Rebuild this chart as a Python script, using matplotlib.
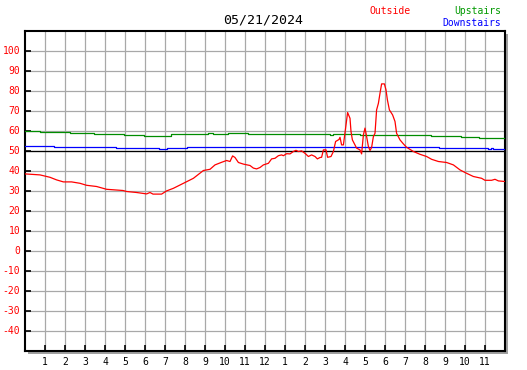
import matplotlib
matplotlib.use('Agg')
import matplotlib.pyplot as plt
from matplotlib.patches import Rectangle

plt.rcParams['font.family'] = ['DejaVu Sans Mono']
plt.rcParams['axes.unicode_minus'] = False

# outside temperature (hour of day, degrees)
outside_hours = [0, 0.75, 1.25, 1.58, 1.92, 2.33, 2.75, 3.08, 3.58, 4.08, 4.9, 5.08,
                 5.58, 6.08, 6.25, 6.4, 6.83, 7.08, 7.42, 7.92, 8.42, 8.92, 9.25, 9.5,
                 9.83, 10.08, 10.25, 10.38, 10.5, 10.67, 10.92, 11.25, 11.42, 11.58,
                 11.75, 11.92, 12.17, 12.33, 12.5, 12.67, 12.83, 12.92, 13.08, 13.25,
                 13.42, 13.55, 13.67, 13.83, 14.0, 14.17, 14.33, 14.5, 14.62, 14.75,
                 14.83, 14.92, 15.05, 15.13, 15.3, 15.42, 15.53, 15.7, 15.75, 15.83,
                 15.92, 16.03, 16.13, 16.25, 16.3, 16.37, 16.58, 16.75, 16.83, 16.92,
                 17.0, 17.08, 17.17, 17.25, 17.33, 17.42, 17.5, 17.58, 17.67, 17.75,
                 17.83, 17.97, 18.05, 18.12, 18.22, 18.38, 18.5, 18.58, 18.75, 18.92,
                 19.08, 19.42, 19.75, 20.08, 20.33, 20.67, 21.08, 21.42, 21.75, 22.08,
                 22.42, 22.83, 23.0, 23.33, 23.5, 23.67, 24.0]
outside_temp = [38.3, 37.8, 36.6, 35.3, 34.3, 34.3, 33.6, 32.6, 32.0, 30.6, 30.0, 29.5,
                29.0, 28.3, 29.0, 28.2, 28.2, 29.8, 31.1, 33.6, 36.1, 40.0, 40.6, 42.8,
                44.1, 45.0, 44.5, 47.3, 46.5, 44.0, 43.2, 42.5, 41.2, 40.8,
                41.5, 42.8, 43.6, 45.8, 46.1, 47.4, 47.8, 47.4, 48.4, 48.3,
                49.5, 50.1, 49.5, 49.8, 48.6, 47.0, 47.8, 47.0, 45.8, 46.5,
                46.6, 50.3, 50.3, 46.6, 47.0, 49.5, 54.5, 55.5, 56.6, 52.8,
                52.8, 61.2, 69.0, 66.1, 59.5, 55.3, 51.2, 50.3, 48.3, 57.8,
                61.2, 57.0, 52.0, 50.0, 51.5, 57.0, 58.6, 70.3, 73.6, 78.6,
                83.3, 83.3, 80.3, 75.3, 70.3, 67.8, 64.5, 58.6, 55.3, 53.3,
                51.6, 49.5, 48.1, 47.0, 45.6, 44.5, 44.0, 42.8, 40.3, 38.6,
                37.0, 36.1, 35.1, 35.1, 35.6, 34.8, 34.5]

# upstairs (step changes)
upstairs_hours = [0, 0.75, 2.25, 3.45, 4.95, 5.95, 7.3, 9.15, 9.4, 9.6, 10.15, 11.15,
                  15.25, 15.4, 16.75, 20.3, 21.8, 22.7, 24]
upstairs_temp = [59.8, 59.1, 58.6, 58.1, 57.6, 57.3, 58.1, 58.6, 58.1, 58.4, 58.6, 58.1,
                 57.6, 58.1, 57.6, 57.1, 56.6, 56.1, 56.1]

# downstairs (step changes)
downstairs_hours = [0, 1.45, 4.55, 6.7, 7.1, 8.1, 20.7, 23.15, 23.3, 23.4, 24]
downstairs_temp = [52.3, 51.8, 51.1, 50.6, 51.1, 51.7, 51.1, 50.6, 51.1, 50.6, 50.6]

hour_ticks = list(range(1, 24))
hour_labels = [str(h) for h in range(1, 13)] + [str(h) for h in range(1, 12)]
temp_ticks = list(range(-40, 101, 10))

W, H = 527, 370
fig = plt.figure(figsize=(W / 100, H / 100), dpi=100)
fig.patch.set_facecolor('white')

x0, y0, x1, y1 = 25, 30.5, 505, 350.5
# shadow behind the plot box
fig.patches.append(Rectangle(((x0 + 3) / W, 1 - (y1 + 3) / H), (x1 - x0) / W, (y1 - y0) / H,
                             transform=fig.transFigure, facecolor='#a0a0a0',
                             edgecolor='none', zorder=0))
ax = fig.add_axes([x0 / W, 1 - y1 / H, (x1 - x0) / W, (y1 - y0) / H])
ax.set_facecolor('white')
ax.set_zorder(1)

ax.set_xlim(0, 24)
ax.set_ylim(-50, 110)

for h in range(1, 24):
    ax.axvline(h, color='#a8a8a8', lw=0.9, zorder=1)
for t in range(-40, 110, 10):
    ax.axhline(t, color='#a8a8a8', lw=0.9, zorder=1)
ax.axhline(50, color='black', lw=0.9, zorder=2)

ax.step(upstairs_hours, upstairs_temp, where='post', color='#008c00', lw=0.9, zorder=3)
ax.step(downstairs_hours, downstairs_temp, where='post', color='#0000ff', lw=0.9, zorder=3)
ax.plot(outside_hours, outside_temp, color='#ff0000', lw=0.9, zorder=4)

ax.set_xticks(hour_ticks)
ax.set_xticklabels(hour_labels)
ax.set_yticks(temp_ticks)
ax.tick_params(axis='both', direction='in', length=4, width=1.2, color='black', labelsize=7)
ax.tick_params(axis='x', pad=5)
ax.tick_params(axis='y', pad=3.5, labelcolor='#ff0000')
for s in ax.spines.values():
    s.set_color('black')
    s.set_linewidth(1.5)

fig.text(263 / W, 1 - 20 / H, '05/21/2024', ha='center', va='center', fontsize=9.5, color='black')
fig.text(390 / W, 1 - 11 / H, 'Outside', ha='center', va='center', fontsize=7, color='#ff0000')
fig.text(501 / W, 1 - 11 / H, 'Upstairs', ha='right', va='center', fontsize=7, color='#009900')
fig.text(501 / W, 1 - 23 / H, 'Downstairs', ha='right', va='center', fontsize=7, color='#0000ff')

fig.savefig('out.png', dpi=100)
